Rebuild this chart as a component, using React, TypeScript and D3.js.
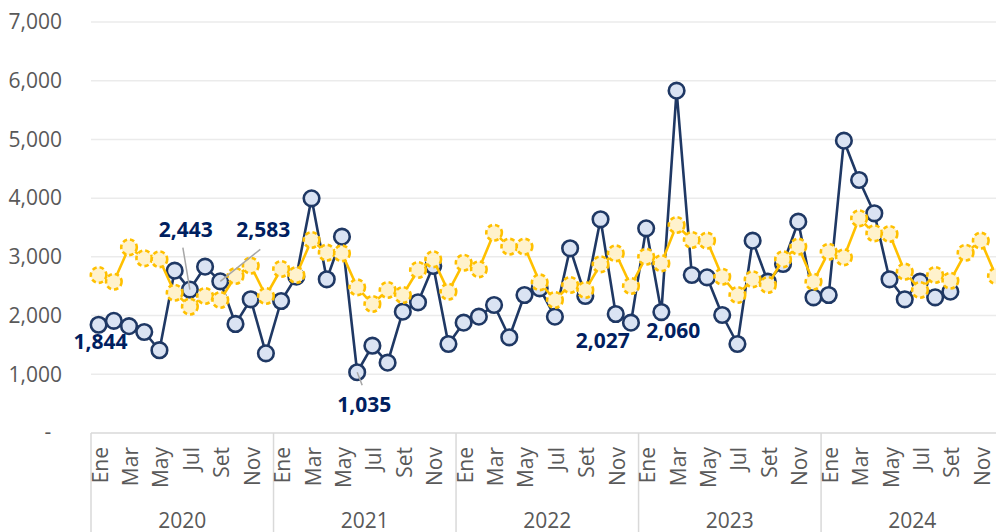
import React from "react";
import * as d3 from "d3";

const years = ["2020", "2021", "2022", "2023", "2024"];
const months = ["Ene", "Feb", "Mar", "Abr", "May", "Jun", "Jul", "Ago", "Set", "Oct", "Nov", "Dic"];

const seriesNavy: (number | null)[] = [
  1844, 1910, 1820, 1720, 1410, 2765, 2443, 2833, 2583, 1857, 2277, 1357,
  2248, 2663, 3997, 2618, 3344, 1035, 1487, 1198, 2067, 2226, 2845, 1516,
  1879, 1981, 2180, 1630, 2350, 2464, 1981, 3146, 2334, 3640, 2027, 1879,
  3486, 2060, 5831, 2691, 2651, 2010, 1516, 3276, 2577, 2879, 3599, 2311,
  2350, 4979, 4309, 3742, 2618, 2277, 2577, 2311, 2407, null, null, null,
];

const seriesGold: number[] = [
  2690, 2577, 3163, 2975, 2958, 2390, 2152, 2334, 2265, 2674, 2850, 2334,
  2793, 2691, 3287, 3072, 3060, 2481, 2197, 2436, 2350, 2776, 2958, 2407,
  2900, 2788, 3412, 3174, 3174, 2566, 2265, 2521, 2436, 2873, 3060, 2504,
  3003, 2890, 3543, 3287, 3276, 2662, 2350, 2618, 2521, 2958, 3174, 2577,
  3088, 2992, 3657, 3401, 3390, 2748, 2436, 2691, 2594, 3071, 3276, 2674,
];

const yTicks = [0, 1000, 2000, 3000, 4000, 5000, 6000, 7000];

// labelled points (index into seriesNavy) with label offsets and optional leader
const labelIdx = [0, 6, 8, 17, 34, 37];
const labelOffsets: Record<number, { dx: number; dy: number; leader?: [number, number] }> = {
  0: { dx: 2, dy: 24 },
  6: { dx: -4, dy: -53, leader: [-7, -42] },
  8: { dx: 43, dy: -44, leader: [40, -32] },
  17: { dx: 7, dy: 40, leader: [5, 13] },
  34: { dx: -13, dy: 34 },
  37: { dx: 12, dy: 26 },
};

const W = 996;
const H = 532;
const left = 91;
const step = 15.21;
const nMonths = years.length * months.length;
const top = 22;
const bottom = 433;

const FONT = "'Open Sans', 'Liberation Sans', sans-serif";

export default function App() {
  const keys = d3.range(nMonths);
  const x = d3.scaleBand<number>().domain(keys).range([left, left + nMonths * step]).padding(0);
  const cx = (i: number) => (x(i) as number) + x.bandwidth() / 2;
  const y = d3.scaleLinear().domain([0, 7000]).range([bottom, top]);

  const lineNavy = d3
    .line<number | null>()
    .defined((d) => d != null)
    .x((_, i) => cx(i))
    .y((d) => y(d as number));
  const lineGold = d3
    .line<number>()
    .x((_, i) => cx(i))
    .y((d) => y(d));

  const fmt = d3.format(",");
  const yearW = months.length * step;

  return (
    <svg
      width={W}
      height={H}
      style={{ position: "absolute", left: 0, top: 0, display: "block", background: "#fff" }}
      fontFamily={FONT}
    >
      {/* gridlines */}
      {yTicks.slice(1).map((t) => (
        <line key={t} x1={left} x2={W + 20} y1={y(t)} y2={y(t)} stroke="#ebebeb" strokeWidth={1.5} />
      ))}
      {/* y tick labels */}
      {yTicks.map((t) =>
        t === 0 ? (
          <text key={t} x={48} y={y(t)} dy="0.3em" textAnchor="middle" fontSize={21} fill="#595959">
            -
          </text>
        ) : (
          <text key={t} x={62} y={y(t)} dy="0.35em" textAnchor="end" fontSize={21} fill="#595959">
            {fmt(t)}
          </text>
        )
      )}
      {/* x axis frame */}
      <line x1={left} x2={W + 20} y1={bottom} y2={bottom} stroke="#d9d9d9" strokeWidth={1.5} />
      {d3.range(years.length + 1).map((k) => (
        <line
          key={k}
          x1={left + k * yearW}
          x2={left + k * yearW}
          y1={bottom}
          y2={H}
          stroke="#d9d9d9"
          strokeWidth={1.5}
        />
      ))}
      {/* month labels */}
      {keys
        .filter((i) => i % 2 === 0)
        .map((i) => (
          <text
            key={i}
            transform={`translate(${cx(i) + 1},447) rotate(-90)`}
            textAnchor="end"
            dominantBaseline="central"
            fontSize={21}
            fill="#595959"
          >
            {months[i % 12]}
          </text>
        ))}
      {/* year labels */}
      {years.map((yr, k) => (
        <text key={yr} x={left + k * yearW + yearW / 2} y={528} textAnchor="middle" fontSize={21} fill="#595959">
          {yr}
        </text>
      ))}

      {/* navy series */}
      <path d={lineNavy(seriesNavy) || ""} fill="none" stroke="#1f3864" strokeWidth={2.6} strokeLinejoin="round" />
      {seriesNavy.map((v, i) =>
        v == null ? null : (
          <circle key={i} cx={cx(i)} cy={y(v)} r={7.8} fill="#dae3f3" stroke="#1f3864" strokeWidth={2.6} />
        )
      )}

      {/* gold series */}
      <path d={lineGold(seriesGold) || ""} fill="none" stroke="#ffc000" strokeWidth={2.6} strokeLinejoin="round" />
      {seriesGold.map((v, i) => (
        <circle
          key={i}
          cx={cx(i)}
          cy={y(v)}
          r={7.8}
          fill="#fff2cc"
          stroke="#ffc000"
          strokeWidth={2.6}
          strokeDasharray="4.5 3"
        />
      ))}

      {/* leader lines */}
      {labelIdx.map((i) => {
        const v = seriesNavy[i] as number;
        const px = cx(i);
        const py = y(v);
        const o = labelOffsets[i];
        return o.leader ? (
          <line
            key={i}
            x1={px}
            y1={py}
            x2={px + o.leader[0]}
            y2={py + o.leader[1]}
            stroke="#a6a6a6"
            strokeWidth={1.5}
          />
        ) : null;
      })}
      {/* data labels */}
      {labelIdx.map((i) => {
        const v = seriesNavy[i] as number;
        const o = labelOffsets[i];
        return (
          <text
            key={i}
            x={cx(i) + o.dx}
            y={y(v) + o.dy}
            textAnchor="middle"
            fontSize={21}
            fontWeight="bold"
            fill="#002060"
          >
            {fmt(v)}
          </text>
        );
      })}
    </svg>
  );
}
